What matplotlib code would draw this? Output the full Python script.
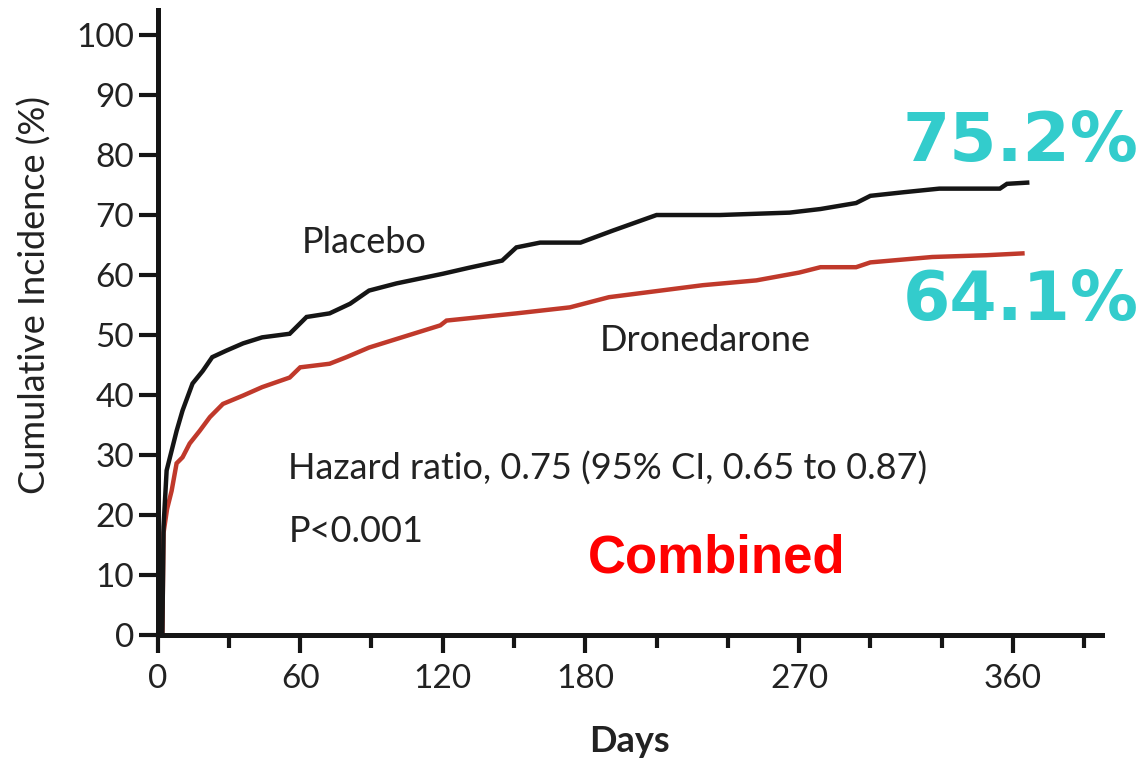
import matplotlib.pyplot as plt
from matplotlib.ticker import MultipleLocator

# values (days, cumulative %)
placebo_days = [0, 2, 2.5, 3.8, 5.9, 8, 10.5, 14.7, 19, 23, 29, 36, 44, 55.6, 62.7, 72.4, 81, 89,
                100.6, 120, 131, 145, 151, 161, 178, 191.6, 210, 236.6, 266, 279, 294, 300, 314,
                329, 354.5, 357.5, 366]
placebo_pct = [0, 0, 18, 27.4, 30.7, 34, 37.4, 41.9, 44, 46.3, 47.4, 48.6, 49.6, 50.2, 53, 53.6,
               55.2, 57.4, 58.6, 60.2, 61.2, 62.4, 64.6, 65.4, 65.4, 67.4, 70, 70, 70.4, 71, 72,
               73.2, 73.8, 74.4, 74.4, 75.2, 75.4]

drone_days = [0, 2, 2.5, 4, 5.9, 8, 10.5, 13.5, 17.7, 22, 27.5, 36, 44, 55.6, 60, 72.4, 79.5, 89,
              119, 121.6, 151, 173.5, 190, 229.5, 252, 270, 279, 294, 300, 326, 349, 364]
drone_pct = [0, 0, 17, 21, 24, 28.6, 29.6, 31.9, 34, 36.3, 38.5, 39.9, 41.3, 42.9, 44.6, 45.2,
             46.3, 47.9, 51.6, 52.4, 53.6, 54.6, 56.3, 58.3, 59.1, 60.4, 61.3, 61.3, 62.1, 63,
             63.3, 63.6]

x_labeled = [0, 60, 120, 180, 270, 360]
y_ticks = [0, 10, 20, 30, 40, 50, 60, 70, 80, 90, 100]

narrow = ['Lato', 'DejaVu Sans']
txt_col = '#222222'

fig = plt.figure(figsize=(11.42, 7.63), dpi=100)
ax = fig.add_axes([0.138, 0.168, 0.827, 0.819])

ax.plot(drone_days, drone_pct, color='#c0392b', lw=3.2, solid_joinstyle='miter')
ax.plot(placebo_days, placebo_pct, color='#151515', lw=3.2, solid_joinstyle='miter')

ax.set_xlim(0, 397.5)
ax.set_ylim(0, 104.2)

for s in ['top', 'right']:
    ax.spines[s].set_visible(False)
for s in ['left', 'bottom']:
    ax.spines[s].set_linewidth(3.6)
    ax.spines[s].set_color('#151515')

ax.set_xticks(x_labeled)
ax.xaxis.set_minor_locator(MultipleLocator(30))
ax.set_yticks(y_ticks)
ax.tick_params(axis='both', which='major', width=3, length=13, color='#151515',
               labelsize=24, labelcolor=txt_col)
ax.tick_params(axis='x', which='major', pad=8)
ax.tick_params(axis='y', which='major', length=14, pad=3)
ax.tick_params(axis='x', which='minor', width=3, length=9, color='#151515')
for lab in ax.get_xticklabels() + ax.get_yticklabels():
    lab.set_family(narrow)

ax.set_ylabel('Cumulative Incidence (%)', family=narrow, fontsize=26, color=txt_col)
ax.yaxis.set_label_coords(-0.112, 0.544)
ax.set_xlabel('Days', family=narrow, fontsize=26, weight='bold', color=txt_col, labelpad=22)

ax.text(60.5, 65.5, 'Placebo', family=narrow, fontsize=26, color=txt_col, va='center')
ax.text(186, 49, 'Dronedarone', family=narrow, fontsize=26, color=txt_col, va='center')
ax.text(55, 27.8, 'Hazard ratio, 0.75 (95% CI, 0.65 to 0.87)', family=narrow, fontsize=26,
        color=txt_col, va='center')
ax.text(55, 17.2, 'P<0.001', family=narrow, fontsize=26, color=txt_col, va='center')

ax.text(181, 12.8, 'Combined', family='Liberation Sans', weight='bold', fontsize=38,
        color='#ff0000', va='center')

fig.text(0.997, 0.814, '75.2%', family='DejaVu Sans', weight='bold', fontsize=49,
         color='#33cccc', ha='right', va='center')
fig.text(0.997, 0.606, '64.1%', family='DejaVu Sans', weight='bold', fontsize=49,
         color='#33cccc', ha='right', va='center')

plt.savefig('out.png')
